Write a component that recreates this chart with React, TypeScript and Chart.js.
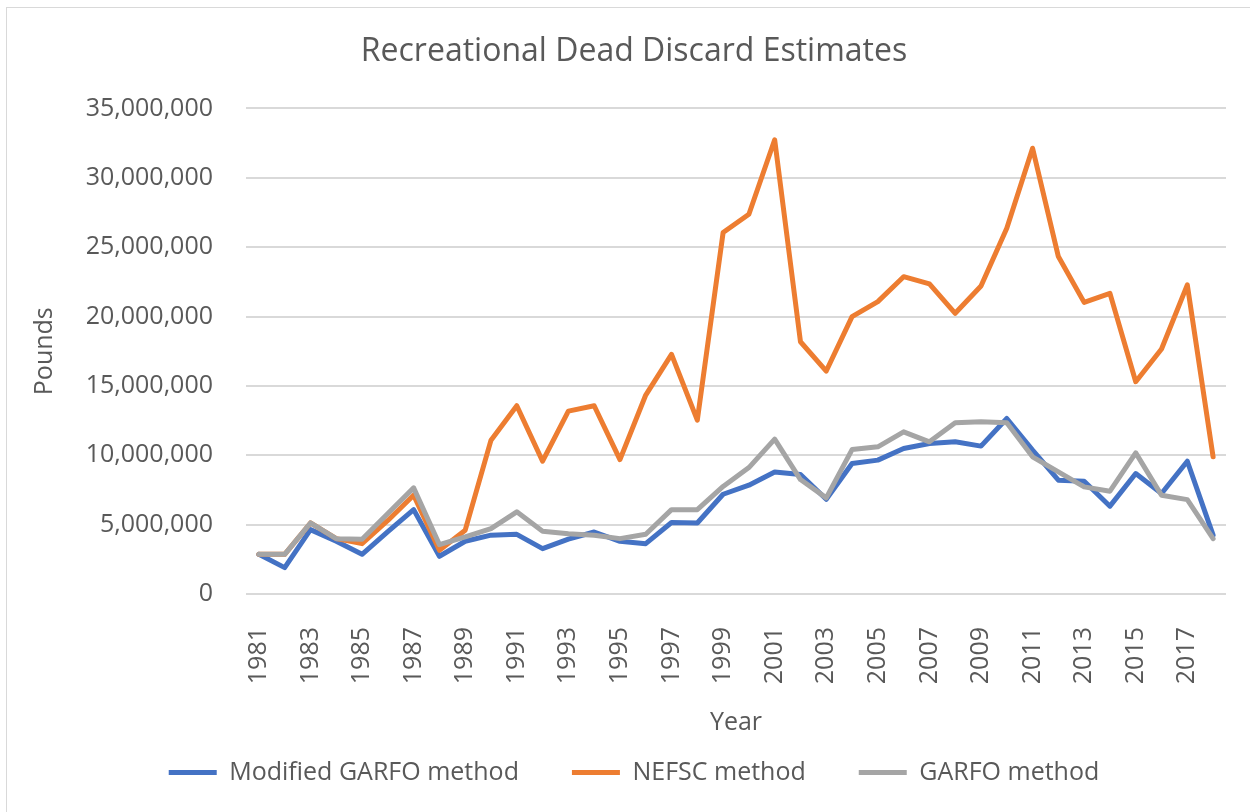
import React, { useEffect, useRef } from "react";
import { Chart, registerables } from "chart.js";

Chart.register(...registerables);

const years = [
  "1981", "1982", "1983", "1984", "1985", "1986", "1987", "1988", "1989", "1990",
  "1991", "1992", "1993", "1994", "1995", "1996", "1997", "1998", "1999", "2000",
  "2001", "2002", "2003", "2004", "2005", "2006", "2007", "2008", "2009", "2010",
  "2011", "2012", "2013", "2014", "2015", "2016", "2017", "2018",
];

const modifiedGarfo = [
  2860000, 1900000, 4640000, 3800000, 2860000, 4500000, 6080000, 2720000, 3800000, 4240000,
  4300000, 3270000, 3950000, 4470000, 3800000, 3630000, 5150000, 5120000, 7190000, 7840000,
  8800000, 8610000, 6830000, 9400000, 9650000, 10490000, 10850000, 10970000, 10660000, 12650000,
  10370000, 8200000, 8130000, 6330000, 8680000, 7240000, 9570000, 4240000,
];

const nefsc = [
  2860000, 2860000, 5120000, 3990000, 3630000, 5300000, 7120000, 3150000, 4600000, 11090000,
  13570000, 9570000, 13180000, 13570000, 9690000, 14340000, 17270000, 12530000, 26050000, 27370000,
  32740000, 18180000, 16070000, 19990000, 21070000, 22870000, 22350000, 20230000, 22200000, 26360000,
  32130000, 24320000, 21020000, 21670000, 15300000, 17660000, 22280000, 9890000,
];

const garfo = [
  2860000, 2860000, 5120000, 3990000, 3950000, 5800000, 7650000, 3560000, 4110000, 4710000,
  5920000, 4520000, 4350000, 4240000, 3990000, 4310000, 6080000, 6080000, 7750000, 9110000,
  11160000, 8250000, 6930000, 10410000, 10610000, 11690000, 10970000, 12340000, 12410000, 12340000,
  9890000, 8800000, 7720000, 7410000, 10170000, 7120000, 6800000, 3990000,
];

const seriesNames = ["Modified GARFO method", "NEFSC method", "GARFO method"];
const seriesColors = ["#4472C4", "#ED7D31", "#A5A5A5"];
const yTicksMax = 35000000;
const yTicksStep = 5000000;

const FONT = "'Open Sans', 'DejaVu Sans', sans-serif";
const TEXT = "#595959";

export default function App() {
  const canvasRef = useRef<HTMLCanvasElement | null>(null);

  useEffect(() => {
    if (!canvasRef.current) return;
    const allData = [modifiedGarfo, nefsc, garfo];
    const chart = new Chart(canvasRef.current, {
      type: "line",
      data: {
        labels: years,
        datasets: allData.map((d, i) => ({
          label: seriesNames[i],
          data: d,
          borderColor: seriesColors[i],
          backgroundColor: seriesColors[i],
          borderWidth: 5,
          borderCapStyle: "round" as const,
          borderJoinStyle: "round" as const,
          pointRadius: 0,
          pointHoverRadius: 0,
          tension: 0,
          fill: false,
          order: 3 - i,
        })),
      },
      options: {
        responsive: false,
        animation: false,
        devicePixelRatio: 1,
        layout: { padding: { top: 10, right: 24, bottom: 17, left: 42 } },
        plugins: {
          title: {
            display: true,
            text: "Recreational Dead Discard Estimates",
            color: TEXT,
            font: { family: FONT, size: 32, weight: "normal" },
            padding: { top: 23, bottom: 37 },
          },
          legend: {
            display: true,
            position: "bottom",
            labels: {
              usePointStyle: true,
              pointStyle: "line",
              pointStyleWidth: 48,
              boxWidth: 48,
              color: TEXT,
              font: { family: FONT, size: 25 },
              padding: 53,
              sort: (a: any, b: any) => a.datasetIndex - b.datasetIndex,
            },
          },
          tooltip: { enabled: false },
        },
        scales: {
          x: {
            type: "category",
            offset: true,
            grid: { display: false, drawTicks: false },
            border: { display: false },
            ticks: {
              autoSkip: false,
              minRotation: 90,
              maxRotation: 90,
              padding: 33,
              color: TEXT,
              font: { family: FONT, size: 25 },
              callback: function (this: any, value: any, index: number) {
                return index % 2 === 0 ? this.getLabelForValue(value) : "";
              },
            },
            title: {
              display: true,
              text: "Year",
              color: TEXT,
              font: { family: FONT, size: 25 },
              padding: { top: 0, bottom: -31 },
            },
            afterFit: (scale: any) => {
              scale.height = 113;
              scale.paddingLeft = 0;
              scale.paddingRight = 0;
            },
          },
          y: {
            min: 0,
            max: yTicksMax,
            grid: { color: "#D9D9D9", lineWidth: 2, drawTicks: false },
            border: { display: false },
            ticks: {
              stepSize: yTicksStep,
              padding: 33,
              color: TEXT,
              font: { family: FONT, size: 25 },
              callback: (v: any) => Number(v).toLocaleString("en-US"),
            },
            title: {
              display: true,
              text: "Pounds",
              color: TEXT,
              font: { family: FONT, size: 25 },
              padding: { top: -12, bottom: 0 },
            },
            afterFit: (scale: any) => {
              scale.width = 204;
            },
          },
        },
      },
    });
    return () => chart.destroy();
  }, []);

  return (
    <div
      style={{
        position: "absolute",
        left: 0,
        top: 0,
        width: 1250,
        height: 812,
        background: "#ffffff",
        overflow: "hidden",
      }}
    >
      <div
        style={{
          position: "absolute",
          left: 6,
          top: 7,
          width: 1244,
          height: 805,
          borderTop: "1px solid #D9D9D9",
          borderLeft: "1px solid #D9D9D9",
        }}
      />
      <canvas
        ref={canvasRef}
        width={1250}
        height={812}
        style={{ position: "absolute", left: 0, top: 0, width: 1250, height: 812 }}
      />
    </div>
  );
}
